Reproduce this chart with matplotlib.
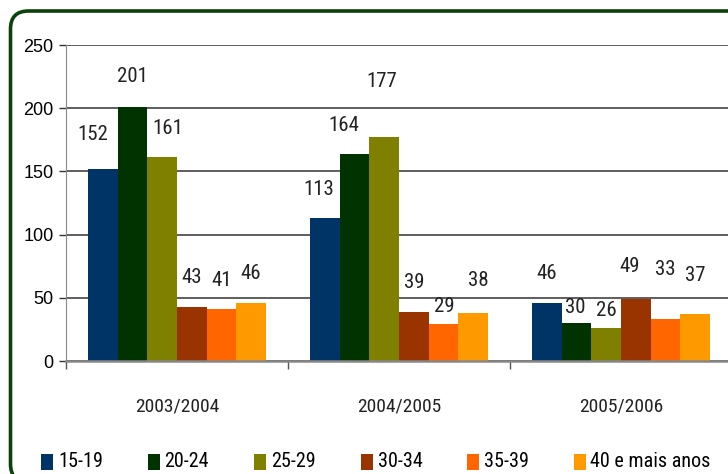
import numpy as np
import matplotlib
matplotlib.use('Agg')
import matplotlib.pyplot as plt
import matplotlib.transforms as mtransforms
from matplotlib.patches import FancyBboxPatch, Rectangle

# data
years = ['2003/2004', '2004/2005', '2005/2006']
groups = ['15-19', '20-24', '25-29', '30-34', '35-39', '40 e mais anos']
v_15_19 = [152, 113, 46]
v_20_24 = [201, 164, 30]
v_25_29 = [161, 177, 26]
v_30_34 = [43, 39, 49]
v_35_39 = [41, 29, 33]
v_40_mais = [46, 38, 37]
colors = ['#003366', '#003300', '#808000', '#993300', '#FF6600', '#FF9900']

# label placement (value units above bar, pixel shift sideways), per year
label_dy = [[27, 24, 23, 23, 23, 23],
            [23, 22, 44, 23, 14.5, 26],
            [23.6, 12.7, 14.3, 25.4, 39, 31]]
label_dx = [[-10, 0, 6, 0, 0, 0],
            [-6, -11, -2, 0, 1, 5],
            [0, -1, 0, -6, 0, 0]]

series = [v_15_19, v_20_24, v_25_29, v_30_34, v_35_39, v_40_mais]
narrow = ['Roboto Condensed', 'Liberation Sans Narrow', 'DejaVu Sans']
nstretch = 'condensed'

fig = plt.figure(figsize=(7.28, 4.74), dpi=100)
ax = fig.add_axes([66 / 728, (474 - 361) / 474, (732 - 66) / 728, 316 / 474])

x = np.arange(len(years))
w = 0.8 / len(groups)
for i, vals in enumerate(series):
    pos = x - 0.4 + w * (i + 0.5)
    ax.bar(pos, vals, width=w, color=colors[i], zorder=3)
    for j, v in enumerate(vals):
        ax.annotate(str(v), (pos[j], v + label_dy[j][i]),
                    xytext=(label_dx[j][i] * 0.72, 0), textcoords='offset points',
                    ha='center', va='center', fontsize=15, family=narrow,
                    fontstretch=nstretch, color='#222222', zorder=4)

ax.set_xlim(-0.5, 2.5)
ax.set_ylim(0, 250)
ax.set_yticks([0, 50, 100, 150, 200, 250])
ax.yaxis.grid(True, color='#333333', linewidth=1.1, zorder=1)
ax.tick_params(axis='y', length=5, width=1, color='#333333', pad=4,
               labelsize=13, labelcolor='black')
for t in ax.get_yticklabels():
    t.set_family(['Liberation Sans', 'DejaVu Sans'])

ax.set_xticks(x)
ax.set_xticklabels(years, family=narrow, fontstretch=nstretch, fontsize=14, color='#222222')
ax.set_xticks([-0.5, 0.5, 1.5, 2.5], minor=True)
ax.tick_params(axis='x', which='major', length=0, pad=26)
ax.tick_params(axis='x', which='minor', length=6, width=1, color='#555555')

for s in ['top', 'right']:
    ax.spines[s].set_visible(False)
ax.spines['left'].set_color('#888888')
ax.spines['bottom'].set_color('#888888')
ax.spines['bottom'].set_linewidth(1.8)
ax.spines['bottom'].set_zorder(5)

# rounded green frame, mostly cut by the image edges
px = mtransforms.IdentityTransform()
frame = FancyBboxPatch((10.5, -8), 760, 463 + 8, boxstyle='round,pad=0,rounding_size=18',
                       transform=px, fill=False,
                       edgecolor='#0b420b', linewidth=2.6, zorder=0)
fig.patches.append(frame)

# legend along the bottom
for i, g in enumerate(groups):
    lx = 41 + 106.5 * i
    fig.patches.append(Rectangle((lx, 474 - 470), 12, 16, transform=px,
                                 facecolor=colors[i], edgecolor='none'))
    fig.text((lx + 17) / 728, 1 - 461.5 / 474, g, ha='left', va='center',
             fontsize=14.5, family=narrow, fontstretch=nstretch, color='black')

fig.savefig('out.png', dpi=100)
